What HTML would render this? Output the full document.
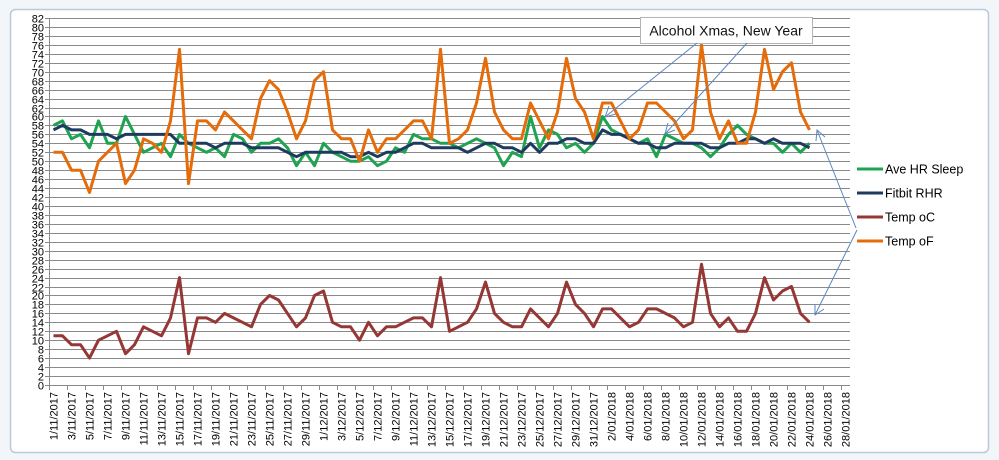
<!DOCTYPE html>
<html><head><meta charset="utf-8"><style>
html,body{margin:0;padding:0;background:#fff;}
svg{display:block;font-family:"Liberation Sans",sans-serif;}
</style></head><body>
<svg id="chart" width="999" height="460" viewBox="0 0 999 460">
<rect x="0" y="0" width="999" height="460" fill="#f3f6f9"/>
<rect x="10.5" y="9.5" width="978" height="443" rx="5" fill="#fff" stroke="#b9c9da" stroke-width="1.5"/>
<g id="grid"></g>
<g id="yticks"></g>
<g id="xticks"></g>
<g id="series"></g>
<g>
<rect x="640.5" y="17.5" width="172" height="26" fill="#fff" stroke="#b4b4b4"/>
<text x="726" y="35.5" font-size="14" text-anchor="middle" fill="#111">Alcohol  Xmas, New Year</text>
<g stroke="#5b86bf" stroke-width="1" fill="none">
<line x1="697" y1="43" x2="605" y2="117"/>
<polyline points="609,106 605,117 616,114"/>
<line x1="747" y1="43" x2="665" y2="134"/>
<polyline points="668,123 665,134 675,130"/>
<line x1="856" y1="228" x2="817" y2="130"/>
<polyline points="816,141 817,130 825,137"/>
<line x1="857" y1="230" x2="815" y2="315"/>
<polyline points="815,304 815,315 824,309"/>
</g>
</g>
<g id="legend"></g>
</svg>
<script>
const hrSleep = [58,59,55,56,53,59,54,54,60,56,52,53,54,51,56,54,53,52,53,51,56,55,52,54,54,55,53,49,52,49,54,52,51,50,50,51,49,50,53,52,56,55,55,54,54,53,54,55,54,53,49,52,51,60,53,57,56,53,54,52,54,60,57,56,55,54,55,51,56,55,54,54,53,51,53,56,58,56,55,54,54,52,54,52,54];
const fitbitRhr = [57,58,57,57,56,56,56,55,56,56,56,56,56,56,54,54,54,54,53,54,54,54,53,53,53,53,52,51,52,52,52,52,52,51,51,52,51,52,52,53,54,54,53,53,53,53,52,53,54,54,53,53,52,54,52,54,54,55,55,54,54,57,56,56,55,54,54,53,53,54,54,54,54,53,53,54,54,55,55,54,55,54,54,54,53];
const tempC = [11,11,9,9,6,10,11,12,7,9,13,12,11,15,24,7,15,15,14,16,15,14,13,18,20,19,16,13,15,20,21,14,13,13,10,14,11,13,13,14,15,15,13,24,12,13,14,17,23,16,14,13,13,17,15,13,16,23,18,16,13,17,17,15,13,14,17,17,16,15,13,14,27,16,13,15,12,12,16,24,19,21,22,16,14];
const tempF = [52,52,48,48,43,50,52,54,45,48,55,54,52,59,75,45,59,59,57,61,59,57,55,64,68,66,61,55,59,68,70,57,55,55,50,57,52,55,55,57,59,59,55,75,54,55,57,63,73,61,57,55,55,63,59,55,61,73,64,61,55,63,63,59,55,57,63,63,61,59,55,57,76,61,55,59,54,54,61,75,66,70,72,61,57];
const seriesNames = ["Ave HR Sleep","Fitbit RHR","Temp oC","Temp oF"];
const yTicks = [0,2,4,6,8,10,12,14,16,18,20,22,24,26,28,30,32,34,36,38,40,42,44,46,48,50,52,54,56,58,60,62,64,66,68,70,72,74,76,78,80,82];
const startDate = [2017,10,1];
const totalDays = 89;

const NS="http://www.w3.org/2000/svg";
const X0=49,X1=850,Y0=385,YT=18,YMAX=82;
const dayW=(X1-X0)/totalDays;
function xPos(i){return X0+(i+0.5)*dayW;}
function yPos(v){return Y0-(Y0-YT)*v/YMAX;}
function mk(tag,attrs,parent){const e=document.createElementNS(NS,tag);for(const k in attrs)e.setAttribute(k,attrs[k]);parent.appendChild(e);return e;}

const grid=document.getElementById('grid');
const yt=document.getElementById('yticks');
yTicks.forEach(v=>{
  const y=Math.round(yPos(v))+0.5;
  const g=mk('line',{x1:X0,x2:X1,y1:y,y2:y,stroke:'#8a8a8a','stroke-width':1},grid);
  
  
  const tk=mk('line',{x1:X0-4,x2:X0,y1:y,y2:y,stroke:'#8a8a8a'},yt);
  
  
  const t=mk('text',{x:X0-5,y:y+4,'font-size':11,'text-anchor':'end',fill:'#000'},yt);
  t.textContent=v;
  
  
});
const ax=mk('line',{x1:X0+0.5,x2:X0+0.5,y1:yPos(82),y2:Y0+1,stroke:'#8a8a8a'},yt);



const xt=document.getElementById('xticks');
for(let k=0;k<=totalDays;k+=2){
  const x=Math.round(X0+k*dayW)+0.5;
  const tk=mk('line',{x1:x,x2:x,y1:Y0,y2:Y0+5,stroke:'#8a8a8a'},xt);
  
  
  if(k<totalDays){
    const d=new Date(startDate[0],startDate[1],startDate[2]+k);
    const lbl=d.getDate()+'/'+String(d.getMonth()+1).padStart(2,'0')+'/'+d.getFullYear();
    const cx=xPos(k)+4;
    const t=mk('text',{x:0,y:0,'font-size':11,'text-anchor':'end',fill:'#000',transform:'translate('+cx+','+(Y0+7)+') rotate(-90)'},xt);
    t.textContent=lbl;
    
    
  }
}

const colors=['#1fa351','#1f3a5f','#953735','#e46c0a'];
const data=[hrSleep,fitbitRhr,tempC,tempF];
const order=[2,0,1,3];
const sg=document.getElementById('series');
order.forEach(s=>{
  const pts=data[s].map((v,i)=>xPos(i).toFixed(1)+','+yPos(v).toFixed(1)).join(' ');
  const p=mk('polyline',{points:pts,fill:'none',stroke:colors[s],'stroke-width':3,'stroke-linejoin':'round'},sg);
  
  
});

const lg=document.getElementById('legend');
seriesNames.forEach((n,i)=>{
  const y=169+i*24;
  const g=mk('g',{},lg);
  
  
  mk('line',{x1:857,x2:883,y1:y,y2:y,stroke:colors[i],'stroke-width':3},g);
  const t=mk('text',{x:885,y:y+4.5,'font-size':12.5,fill:'#000'},g);
  t.textContent=n;
});
</script>
</body></html>
